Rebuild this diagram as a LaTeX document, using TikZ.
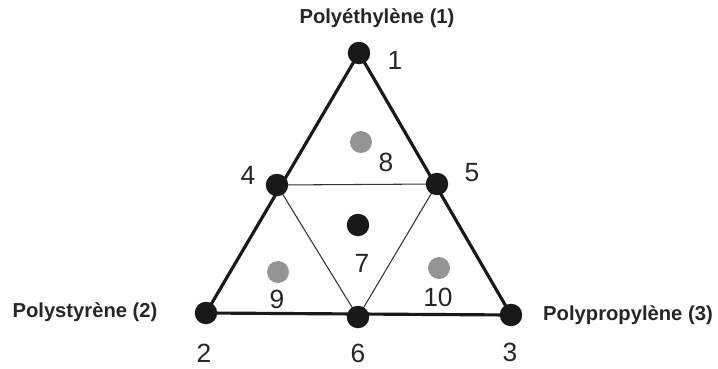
\documentclass[tikz,border=0pt]{standalone}
\usepackage{fontspec}
\setmainfont{Liberation Sans}
\begin{document}
\begin{tikzpicture}[x={(0.02cm,0)},y={(0,-0.02cm)},
  bdot/.style={circle,fill=black!90,inner sep=0pt,minimum size=0.45cm},
  gdot/.style={circle,fill=black!42,inner sep=0pt,minimum size=0.44cm},
  outer/.style={line width=1.8pt,black!90},
  inner/.style={line width=0.6pt,black!80},
  num/.style={font=\fontsize{15}{17}\selectfont,text=black!85,inner sep=0pt},
  ttl/.style={font=\fontsize{11.5}{13}\selectfont\bfseries,text=black!85,inner sep=0pt}]
\useasboundingbox (0,0) rectangle (718,369);
\coordinate (p1) at (359,53);
\coordinate (p2) at (206,313);
\coordinate (p3) at (511,315);
\coordinate (p4) at (277,185);
\coordinate (p5) at (437,184);
\coordinate (p6) at (358,317);
\draw[outer] (p1) -- (p2) -- (p3) -- cycle;
\draw[inner] (p4) -- (p5) -- (p6) -- cycle;
\node[bdot] (n1) at (p1) {};
\node[bdot] (n2) at (p2) {};
\node[bdot] (n3) at (p3) {};
\node[bdot] (n4) at (p4) {};
\node[bdot] (n5) at (p5) {};
\node[bdot] (n6) at (p6) {};
\node[bdot] (n7) at (358,225) {};
\node[gdot] (n8) at (361,142) {};
\node[gdot] (n9) at (278,272) {};
\node[gdot] (n10) at (439,268) {};
\node[num] (l1) at (395,60) {1};
\node[num] (l2) at (204,353) {2};
\node[num] (l3) at (510,352) {3};
\node[num] (l4) at (248,175) {4};
\node[num] (l5) at (472,173) {5};
\node[num] (l6) at (358,353) {6};
\node[num] (l7) at (362,263) {7};
\node[num] (l8) at (386,162) {8};
\node[num] (l9) at (277,299) {9};
\node[num] (l10) at (438,297) {10};
\node[ttl] (t1) at (377,18) {Polyéthylène (1)};
\node[ttl] (t2) at (85,312) {Polystyrène (2)};
\node[ttl] (t3) at (628,315) {Polypropylène (3)};
\end{tikzpicture}
\end{document}
